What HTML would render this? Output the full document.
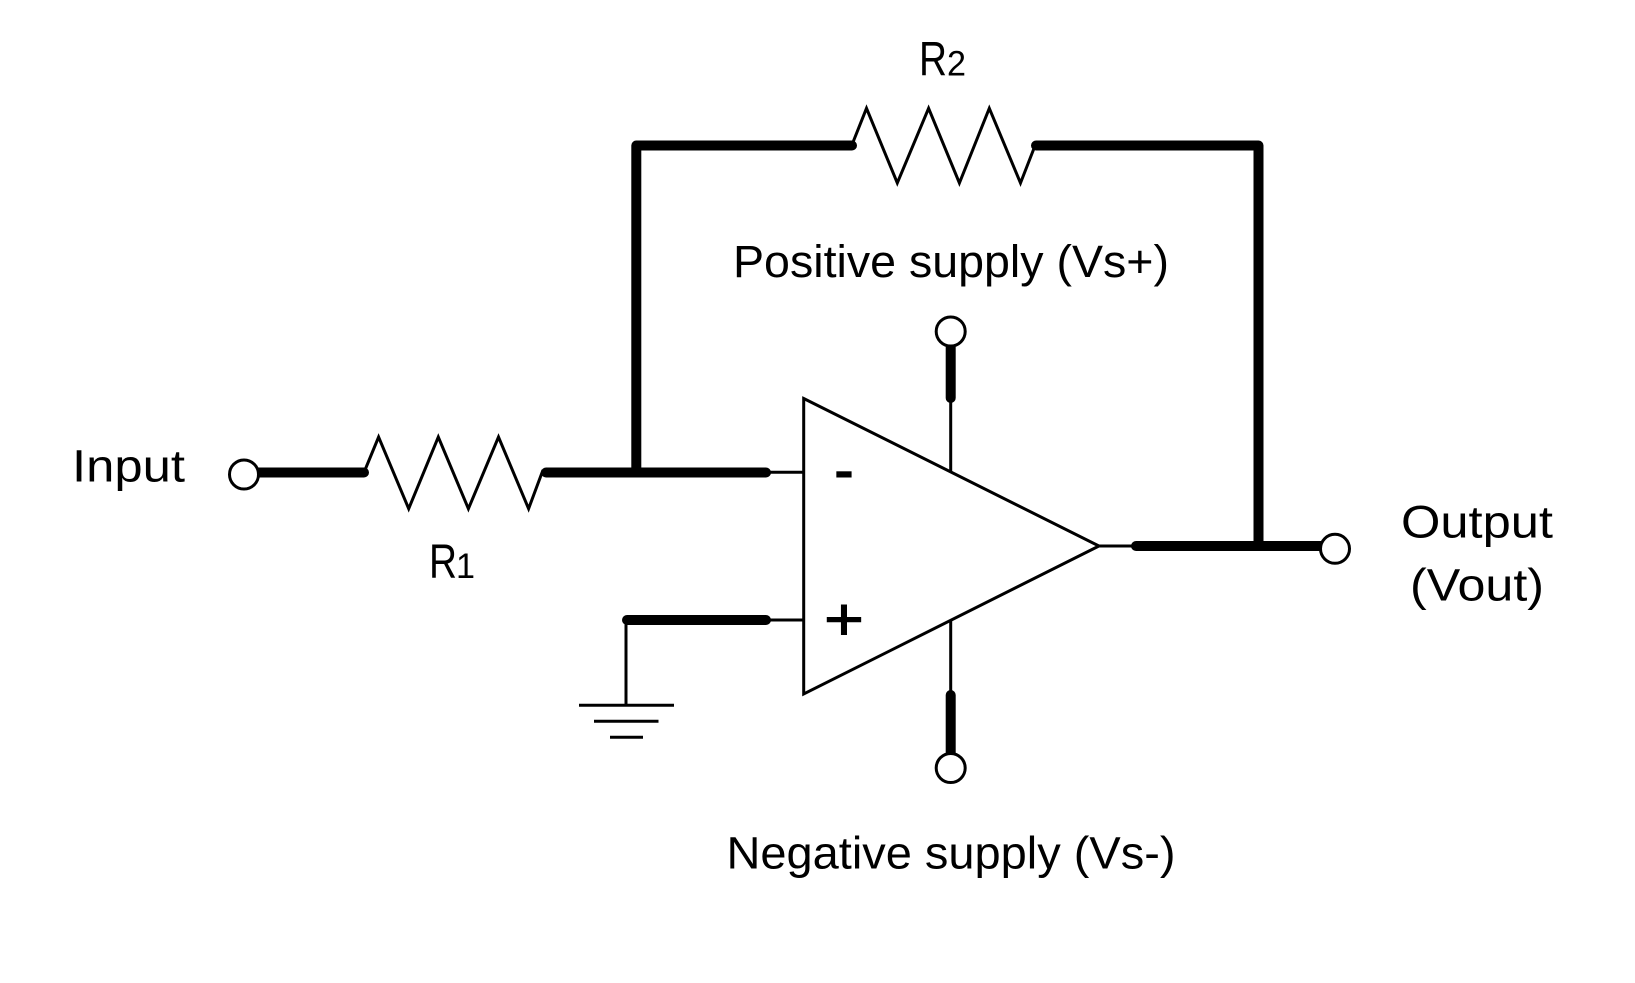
<!DOCTYPE html>
<html>
<head>
<meta charset="utf-8">
<style>
html,body{margin:0;padding:0;background:#fff;}
svg{display:block;}
text{font-family:"Liberation Sans",sans-serif;fill:#000;}
</style>
</head>
<body>
<svg width="1635" height="983" viewBox="0 0 1635 983" xmlns="http://www.w3.org/2000/svg">
<rect width="1635" height="983" fill="#fff"/>
<g fill="none" stroke="#000" stroke-linejoin="miter">
  <!-- thin wires -->
  <g stroke-width="3">
    <line x1="765" y1="472.3" x2="804" y2="472.3"/>
    <line x1="765" y1="620" x2="804" y2="620"/>
    <line x1="1099" y1="546" x2="1135" y2="546"/>
    <line x1="626" y1="620" x2="626" y2="705"/>
    <line x1="579" y1="705.3" x2="674" y2="705.3"/>
    <line x1="594" y1="721.3" x2="658.5" y2="721.3"/>
    <line x1="610" y1="737.3" x2="643" y2="737.3"/>
  </g>
  <!-- op amp -->
  <polygon points="803.7,398.5 1099,546 803.7,694" stroke-width="3" fill="#fff"/>
  <line x1="950.7" y1="400" x2="950.7" y2="472" stroke-width="3"/>
  <line x1="950.7" y1="621" x2="950.7" y2="692" stroke-width="3"/>
  <!-- resistors -->
  <polyline points="365,470 378.6,437 408.7,508.7 438.3,437 468.4,508.7 498.5,437 528.6,508.7 543,470" stroke-width="3"/>
  <polyline points="852.7,143 866.5,108.3 897.3,183 928.6,108.3 959.4,183 989.3,108.3 1020.5,183 1035.3,145" stroke-width="3"/>
  <!-- thick wires -->
  <g stroke-width="10" stroke-linecap="round" stroke-linejoin="round">
    <line x1="255" y1="472.5" x2="364" y2="472.5"/>
    <line x1="546" y1="472.5" x2="766" y2="472.5"/>
    <polyline points="636.3,472 636.3,145.5 852,145.5"/>
    <polyline points="1036,145.5 1258.5,145.5 1258.5,546"/>
    <line x1="627" y1="620" x2="766" y2="620"/>
    <line x1="1136" y1="546" x2="1325" y2="546"/>
    <line x1="950.7" y1="345" x2="950.7" y2="398"/>
    <line x1="950.7" y1="695" x2="950.7" y2="755"/>
  </g>
  <!-- terminals -->
  <g stroke-width="3" fill="#fff">
    <circle cx="244" cy="474.5" r="14.5"/>
    <circle cx="950.7" cy="331.5" r="14.5"/>
    <circle cx="950.7" cy="768" r="14.5"/>
    <circle cx="1335" cy="548.8" r="14.5"/>
  </g>
</g>
<!-- labels -->
<g font-size="45">
  <text x="733" y="277" textLength="436" lengthAdjust="spacingAndGlyphs">Positive supply (Vs+)</text>
  <text x="726.5" y="868.5" textLength="449" lengthAdjust="spacingAndGlyphs">Negative supply (Vs-)</text>
  <text x="72" y="481.5" textLength="113" lengthAdjust="spacingAndGlyphs">Input</text>
  <text x="1401" y="537.5" textLength="152" lengthAdjust="spacingAndGlyphs">Output</text>
  <text x="1410" y="600.5" textLength="134" lengthAdjust="spacingAndGlyphs">(Vout)</text>
  <text x="919" y="75.5" font-size="48" textLength="28" lengthAdjust="spacingAndGlyphs">R</text>
  <text x="429" y="578" font-size="48" textLength="28" lengthAdjust="spacingAndGlyphs">R</text>
  <text x="947" y="75.5" font-size="35" textLength="19" lengthAdjust="spacingAndGlyphs">2</text>
  <text x="456" y="578" font-size="35" textLength="19" lengthAdjust="spacingAndGlyphs">1</text>
  <text x="844" y="488" font-size="52" font-weight="bold" text-anchor="middle" textLength="20" lengthAdjust="spacingAndGlyphs">-</text>
  <text x="844" y="640" font-size="60" stroke="#000" stroke-width="1" text-anchor="middle" textLength="40" lengthAdjust="spacingAndGlyphs">+</text>
</g>
</svg>
</body>
</html>
